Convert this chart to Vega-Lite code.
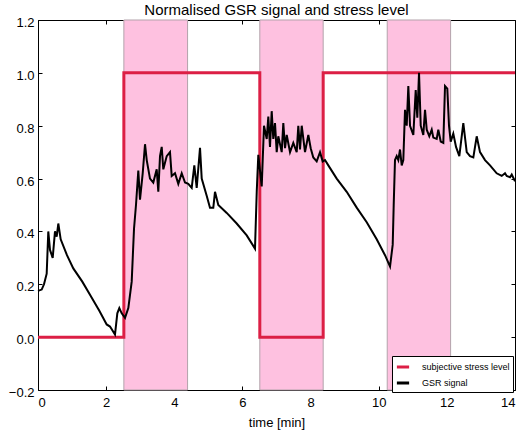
{
  "$schema": "https://vega.github.io/schema/vega-lite/v6.json",
  "width": 477,
  "height": 370,
  "autosize": {"type": "none"},
  "padding": {"left": 38, "top": 20, "right": 8, "bottom": 40},
  "background": "white",
  "title": {"text": "Normalised GSR signal and stress level", "font": "Liberation Sans", "fontSize": 15, "fontWeight": "normal", "color": "black", "offset": 3, "dy": 4, "anchor": "middle"},
  "config": {
    "view": {"stroke": "black", "strokeWidth": 1},
    "axis": {"grid": false, "domain": false, "labelFont": "Liberation Sans", "labelFontSize": 13, "labelColor": "black", "tickColor": "black", "tickSize": -4, "titleFont": "Liberation Sans", "titleFontSize": 13, "titleFontWeight": "normal", "titleColor": "black"}
  },
  "datasets": {
    "bands": [
      {"start": 2.52, "end": 4.39},
      {"start": 6.51, "end": 8.37},
      {"start": 10.25, "end": 12.11}
    ],
    "stress": [
      {"t": 0, "v": 0, "series": "subjective stress level"},
      {"t": 2.52, "v": 1, "series": "subjective stress level"},
      {"t": 6.51, "v": 0, "series": "subjective stress level"},
      {"t": 8.37, "v": 1, "series": "subjective stress level"},
      {"t": 14, "v": 1, "series": "subjective stress level"}
    ],
    "gsr": [
      {"t":0,"v":0.175},{"t":0.109,"v":0.18},{"t":0.176,"v":0.2},{"t":0.255,"v":0.24},{"t":0.302,"v":0.4},{"t":0.352,"v":0.33},{"t":0.431,"v":0.3},{"t":0.499,"v":0.4},{"t":0.549,"v":0.38},{"t":0.596,"v":0.43},{"t":0.666,"v":0.37},{"t":0.85,"v":0.31},{"t":1.036,"v":0.26},{"t":1.3,"v":0.21},{"t":1.526,"v":0.16},{"t":1.8,"v":0.1},{"t":2.016,"v":0.048},{"t":2.113,"v":0.04},{"t":2.26,"v":0.01},{"t":2.328,"v":0.09},{"t":2.387,"v":0.11},{"t":2.457,"v":0.09},{"t":2.554,"v":0.073},{"t":2.651,"v":0.11},{"t":2.75,"v":0.21},{"t":2.818,"v":0.41},{"t":2.876,"v":0.5},{"t":2.944,"v":0.63},{"t":2.994,"v":0.52},{"t":3.073,"v":0.62},{"t":3.141,"v":0.73},{"t":3.191,"v":0.67},{"t":3.287,"v":0.6},{"t":3.384,"v":0.585},{"t":3.484,"v":0.635},{"t":3.531,"v":0.55},{"t":3.581,"v":0.685},{"t":3.631,"v":0.72},{"t":3.678,"v":0.635},{"t":3.778,"v":0.685},{"t":3.874,"v":0.7},{"t":3.924,"v":0.61},{"t":4.021,"v":0.62},{"t":4.118,"v":0.58},{"t":4.218,"v":0.62},{"t":4.315,"v":0.585},{"t":4.411,"v":0.58},{"t":4.511,"v":0.565},{"t":4.588,"v":0.65},{"t":4.658,"v":0.565},{"t":4.755,"v":0.716},{"t":4.805,"v":0.6},{"t":4.951,"v":0.535},{"t":5.048,"v":0.49},{"t":5.145,"v":0.49},{"t":5.195,"v":0.55},{"t":5.292,"v":0.5},{"t":5.539,"v":0.47},{"t":5.832,"v":0.43},{"t":6.126,"v":0.385},{"t":6.369,"v":0.335},{"t":6.42,"v":0.55},{"t":6.466,"v":0.69},{"t":6.566,"v":0.57},{"t":6.633,"v":0.8},{"t":6.713,"v":0.75},{"t":6.76,"v":0.835},{"t":6.809,"v":0.72},{"t":6.859,"v":0.855},{"t":6.906,"v":0.75},{"t":6.956,"v":0.81},{"t":7.006,"v":0.7},{"t":7.053,"v":0.76},{"t":7.153,"v":0.7},{"t":7.2,"v":0.81},{"t":7.25,"v":0.715},{"t":7.3,"v":0.765},{"t":7.397,"v":0.7},{"t":7.493,"v":0.735},{"t":7.593,"v":0.7},{"t":7.64,"v":0.8},{"t":7.69,"v":0.71},{"t":7.74,"v":0.8},{"t":7.837,"v":0.7},{"t":7.934,"v":0.765},{"t":8.004,"v":0.715},{"t":8.08,"v":0.68},{"t":8.18,"v":0.665},{"t":8.277,"v":0.7},{"t":8.356,"v":0.665},{"t":8.424,"v":0.67},{"t":8.521,"v":0.65},{"t":8.767,"v":0.6},{"t":9.061,"v":0.55},{"t":9.354,"v":0.49},{"t":9.648,"v":0.435},{"t":9.941,"v":0.37},{"t":10.185,"v":0.31},{"t":10.332,"v":0.267},{"t":10.411,"v":0.35},{"t":10.44,"v":0.5},{"t":10.478,"v":0.67},{"t":10.528,"v":0.685},{"t":10.575,"v":0.67},{"t":10.625,"v":0.71},{"t":10.675,"v":0.65},{"t":10.722,"v":0.67},{"t":10.772,"v":0.86},{"t":10.822,"v":0.8},{"t":10.869,"v":0.95},{"t":10.919,"v":0.8},{"t":11.016,"v":0.765},{"t":11.086,"v":0.935},{"t":11.133,"v":0.83},{"t":11.183,"v":1.0},{"t":11.233,"v":0.8},{"t":11.309,"v":0.765},{"t":11.359,"v":0.86},{"t":11.409,"v":0.785},{"t":11.485,"v":0.76},{"t":11.556,"v":0.785},{"t":11.603,"v":0.755},{"t":11.702,"v":0.75},{"t":11.749,"v":0.785},{"t":11.82,"v":0.74},{"t":11.896,"v":0.735},{"t":11.946,"v":0.95},{"t":12.013,"v":0.94},{"t":12.063,"v":0.8},{"t":12.113,"v":0.74},{"t":12.189,"v":0.77},{"t":12.269,"v":0.72},{"t":12.366,"v":0.685},{"t":12.483,"v":0.81},{"t":12.583,"v":0.7},{"t":12.68,"v":0.685},{"t":12.777,"v":0.68},{"t":12.876,"v":0.76},{"t":12.973,"v":0.7},{"t":13.12,"v":0.67},{"t":13.267,"v":0.65},{"t":13.463,"v":0.62},{"t":13.61,"v":0.61},{"t":13.707,"v":0.62},{"t":13.757,"v":0.61},{"t":13.854,"v":0.605},{"t":13.904,"v":0.615},{"t":14,"v":0.59}
    ]
  },
  "layer": [
    {
      "data": {"name": "bands"},
      "mark": {"type": "rect", "fill": "#fec1e0", "stroke": "#b3a3ab", "strokeWidth": 1},
      "encoding": {
        "x": {"field": "start", "type": "quantitative", "scale": {"domain": [0, 14]}, "axis": {"orient": "top", "labels": false, "title": null, "values": [0,2,4,6,8,10,12,14]}},
        "x2": {"field": "end"}
      }
    },
    {
      "data": {"name": "stress"},
      "mark": {"type": "line", "interpolate": "step-after", "strokeWidth": 3},
      "encoding": {
        "x": {"field": "t", "type": "quantitative", "scale": {"domain": [0, 14]}, "axis": {"orient": "bottom", "title": "time [min]", "values": [0,2,4,6,8,10,12,14], "format": "d", "labelPadding": 10, "titlePadding": 7}},
        "y": {"field": "v", "type": "quantitative", "scale": {"domain": [-0.2, 1.2]}, "axis": {"orient": "left", "title": null, "values": [-0.2,0,0.2,0.4,0.6,0.8,1.0,1.2], "format": ".1f", "labelPadding": 8, "labelOffset": 2.5}},
        "color": {"field": "series", "type": "nominal", "scale": {"domain": ["subjective stress level", "GSR signal"], "range": ["#dc1f45", "black"]}, "legend": {"title": null, "orient": "none", "legendX": 354, "legendY": 336, "symbolType": "stroke", "symbolStrokeWidth": 3, "symbolSize": 150, "labelOffset": 11, "labelFont": "Liberation Sans", "labelFontSize": 9, "labelColor": "black", "strokeColor": "black", "fillColor": "white", "padding": 3, "rowPadding": 2}}
      }
    },
    {
      "data": {"name": "gsr"},
      "mark": {"type": "line", "strokeWidth": 2, "color": "black"},
      "encoding": {
        "x": {"field": "t", "type": "quantitative", "scale": {"domain": [0, 14]}, "axis": null},
        "y": {"field": "v", "type": "quantitative", "scale": {"domain": [-0.2, 1.2]}, "axis": {"orient": "right", "labels": false, "title": null, "values": [-0.2,0,0.2,0.4,0.6,0.8,1.0,1.2]}},
        "color": {"datum": "GSR signal"}
      }
    }
  ],
  "resolve": {"axis": {"x": "independent", "y": "independent"}}
}
